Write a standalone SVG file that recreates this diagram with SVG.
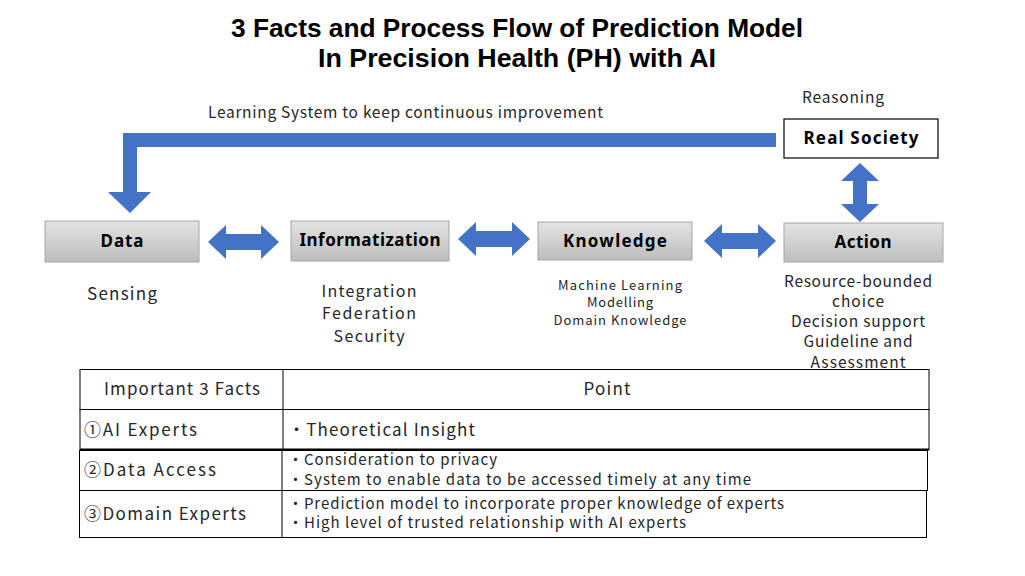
<svg xmlns="http://www.w3.org/2000/svg" width="1025" height="576" viewBox="0 0 1025 576">
<defs>
<linearGradient id="gray" x1="0" y1="0" x2="0" y2="1">
<stop offset="0" stop-color="#e3e3e3"/>
<stop offset="1" stop-color="#bdbdbd"/>
</linearGradient>
</defs>
<style>
.title{font-family:"Liberation Sans",Arial,sans-serif;font-weight:bold;font-size:25px;fill:#000;text-anchor:middle}
.box{fill:url(#gray);stroke:#a6a6a6;stroke-width:1}
.lbl{font-family:"Noto Sans","Liberation Sans",sans-serif;font-weight:bold;font-size:17px;fill:#000;text-anchor:middle}
.t{font-family:"Noto Sans CJK JP","Noto Sans",sans-serif;fill:#262626}
.c{text-anchor:middle}
.arrow{fill:#4472C4}
.cell{fill:#fff;stroke:#000;stroke-width:1}
</style>
<rect width="1025" height="576" fill="#fff"/>
<text class="title" x="517" y="37" textLength="572" lengthAdjust="spacingAndGlyphs">3 Facts and Process Flow of Prediction Model</text>
<text class="title" x="517" y="67" textLength="398" lengthAdjust="spacingAndGlyphs">In Precision Health (PH) with AI</text>

<g id="connectors">
<path class="arrow" d="M776,133 L776,147 L137,147 L137,192 L151,192 L130,213 L108,192 L123,192 L123,133 Z"/>
<path class="arrow" d="M208,242 L226,225 L226,234 L261,234 L261,225 L279,242 L261,259 L261,250 L226,250 L226,259 Z"/>
<path class="arrow" d="M458,239 L476,222 L476,231 L512,231 L512,222 L530,239 L512,256 L512,247 L476,247 L476,256 Z"/>
<path class="arrow" d="M704,241 L722,224 L722,233 L758,233 L758,224 L776,241 L758,258 L758,249 L722,249 L722,258 Z"/>
<path class="arrow" d="M860,163 L879,181 L867,181 L867,204 L879,204 L860,222 L841,204 L853,204 L853,181 L841,181 Z"/>
</g>
<text class="t" x="208" y="118" font-size="15.5" textLength="395" lengthAdjust="spacing">Learning System to keep continuous improvement</text>

<g id="real-society">
<rect x="784" y="119" width="154" height="39" fill="#fff" stroke="#000" stroke-width="1.2"/>
<text class="lbl" x="861" y="144" textLength="115" lengthAdjust="spacing">Real Society</text>
<text class="t" x="802" y="103" font-size="15.5" textLength="82" lengthAdjust="spacing">Reasoning</text>
</g>

<g id="data">
<rect class="box" x="45" y="221" width="154" height="41"/>
<text class="lbl" x="122" y="247" textLength="43" lengthAdjust="spacing">Data</text>
<text class="t c" x="122" y="300" font-size="17" textLength="70" lengthAdjust="spacing">Sensing</text>
</g>

<g id="informatization">
<rect class="box" x="291" y="221" width="158" height="40"/>
<text class="lbl" x="370" y="246" textLength="141" lengthAdjust="spacing">Informatization</text>
<text class="t c" x="369" y="297" font-size="16" textLength="95" lengthAdjust="spacing">Integration</text>
<text class="t c" x="369" y="319" font-size="16" textLength="94" lengthAdjust="spacing">Federation</text>
<text class="t c" x="369" y="342" font-size="16" textLength="71" lengthAdjust="spacing">Security</text>
</g>

<g id="knowledge">
<rect class="box" x="538" y="222" width="154" height="38"/>
<text class="lbl" x="615" y="247" textLength="104" lengthAdjust="spacing">Knowledge</text>
<text class="t c" x="620" y="290" font-size="13" textLength="124" lengthAdjust="spacing">Machine Learning</text>
<text class="t c" x="620" y="307" font-size="13" textLength="66" lengthAdjust="spacing">Modelling</text>
<text class="t c" x="620" y="325" font-size="13" textLength="133" lengthAdjust="spacing">Domain Knowledge</text>
</g>

<g id="action">
<rect class="box" x="784" y="223" width="159" height="39"/>
<text class="lbl" x="863" y="248" textLength="57" lengthAdjust="spacing">Action</text>
<text class="t c" x="858" y="287" font-size="15.5" textLength="148" lengthAdjust="spacing">Resource-bounded</text>
<text class="t c" x="858" y="307" font-size="15.5" textLength="52" lengthAdjust="spacing">choice</text>
<text class="t c" x="858" y="327" font-size="15.5" textLength="134" lengthAdjust="spacing">Decision support</text>
<text class="t c" x="858" y="347" font-size="15.5" textLength="109" lengthAdjust="spacing">Guideline and</text>
<text class="t c" x="858" y="368" font-size="15.5" textLength="95" lengthAdjust="spacing">Assessment</text>
</g>

<g id="table">
<rect class="cell" x="80" y="369.5" width="849" height="40"/>
<line x1="283" y1="369.5" x2="283" y2="409.5" stroke="#000"/>
<rect class="cell" x="80" y="409.5" width="849" height="40"/>
<line x1="283" y1="409.5" x2="283" y2="449.5" stroke="#000"/>
<line x1="80" y1="449.5" x2="929" y2="449.5" stroke="#000" stroke-width="2"/>
<rect class="cell" x="79.5" y="450.5" width="848" height="40"/>
<line x1="282" y1="450.5" x2="282" y2="490.5" stroke="#000"/>
<rect class="cell" x="79.5" y="490.5" width="847" height="47"/>
<line x1="282" y1="490.5" x2="282" y2="537.5" stroke="#000"/>
<text class="t c" x="182" y="395" font-size="17" textLength="156" lengthAdjust="spacing">Important 3 Facts</text>
<text class="t c" x="607" y="395" font-size="17" textLength="47" lengthAdjust="spacing">Point</text>
<text class="t" x="84" y="436" font-size="17" textLength="113" lengthAdjust="spacing">①AI Experts</text>
<text class="t" x="288" y="436" font-size="17" textLength="187" lengthAdjust="spacing">・Theoretical Insight</text>
<text class="t" x="84" y="476" font-size="17" textLength="132" lengthAdjust="spacing">②Data Access</text>
<text class="t" x="288" y="465" font-size="15" textLength="209" lengthAdjust="spacing">・Consideration to privacy</text>
<text class="t" x="288" y="485" font-size="15" textLength="463" lengthAdjust="spacing">・System to enable data to be accessed timely at any time</text>
<text class="t" x="84" y="520" font-size="17" textLength="162" lengthAdjust="spacing">③Domain Experts</text>
<text class="t" x="288" y="509" font-size="15" textLength="496" lengthAdjust="spacing">・Prediction model to incorporate proper knowledge of experts</text>
<text class="t" x="288" y="528" font-size="15" textLength="398" lengthAdjust="spacing">・High level of trusted relationship with AI experts</text>
</g>
</svg>
